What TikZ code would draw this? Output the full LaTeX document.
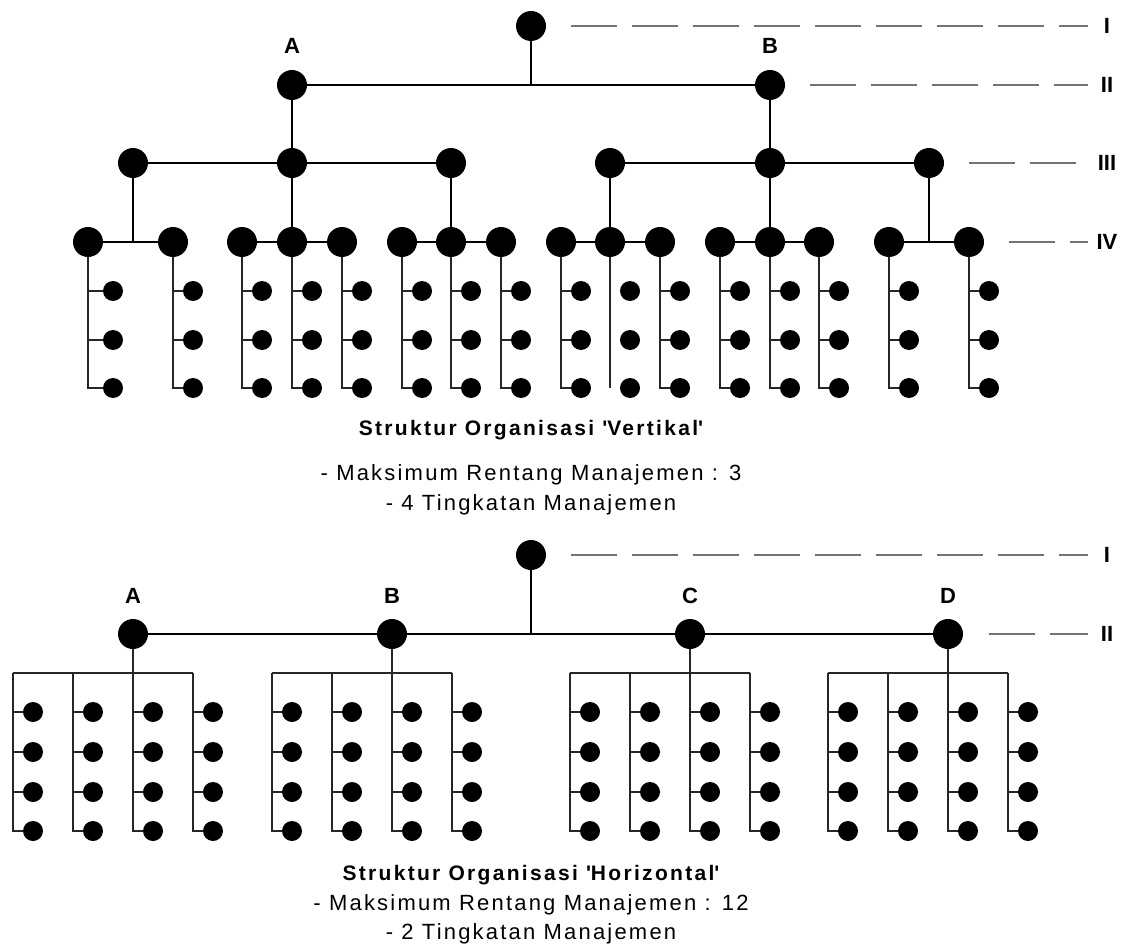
\documentclass[tikz,border=0pt]{standalone}
\usepackage{fontspec}
\setmainfont{Liberation Sans}
\newfontfamily\notefont[LetterSpace=10]{Liberation Sans}
\newfontfamily\headfont[LetterSpace=11]{Liberation Sans}

\tikzset{
  big/.style={circle, fill=black, minimum size=30pt, inner sep=0pt},
  dot/.style={circle, fill=black, minimum size=20pt, inner sep=0pt},
  link/.style={line width=1.8pt, black},
  twig/.style={line width=1.4pt, black!85},
  levelline/.style={line width=1.5pt, black!55, dash pattern=on 46pt off 15pt},
  lab/.style={font=\fontsize{22}{22}\selectfont\bfseries, inner sep=0pt, anchor=center},
  headline/.style={font=\headfont\fontsize{21}{21}\selectfont\bfseries, inner sep=0pt, anchor=base},
  noteline/.style={font=\notefont\fontsize{22}{22}\selectfont, inner sep=0pt, anchor=base},
}

\begin{document}
\begin{tikzpicture}[x=1pt, y=-1pt]
\useasboundingbox (0,0) rectangle (1122,947);

% ---------------- vertical structure ----------------
\node[big] (top) at (531,26) {};
\node[big] (A) at (292,85) {};
\node[big] (B) at (770,85) {};
\node[lab] (labA) at (292,46) {A};
\node[lab] (labB) at (770,46) {B};
\draw[link] (A) -- (B);
\draw[link] (top) -- (top |- A);

% level III
\foreach \n/\x in {a1/133, a2/292, a3/451, b1/610, b2/770, b3/929}
  \node[big] (\n) at (\x,163) {};
\draw[link] (a1) -- (a3);
\draw[link] (b1) -- (b3);
\draw[link] (A) -- (a2);
\draw[link] (B) -- (b2);

% level IV
\foreach \n/\x in {p1/88, p2/173, q1/242, q2/292, q3/342, r1/402, r2/451, r3/501,
                   s1/561, s2/610, s3/660, t1/720, t2/770, t3/819, u1/889, u2/969}
  \node[big] (\n) at (\x,242) {};
\draw[link] (p1) -- (p2);
\draw[link] (q1) -- (q3);
\draw[link] (r1) -- (r3);
\draw[link] (s1) -- (s3);
\draw[link] (t1) -- (t3);
\draw[link] (u1) -- (u2);
\draw[link] (a1) -- (a1 |- p1);
\draw[link] (a2) -- (q2);
\draw[link] (a3) -- (r2);
\draw[link] (b1) -- (s2);
\draw[link] (b2) -- (t2);
\draw[link] (b3) -- (b3 |- u1);

% staff under each level IV unit
\foreach \n/\x/\o in {p1/88/25, p2/173/20, q1/242/20, q2/292/20, q3/342/20,
                      r1/402/20, r2/451/20, r3/501/20, s1/561/20, s2/610/20,
                      s3/660/20, t1/720/20, t2/770/20, t3/819/20, u1/889/20, u2/969/20}
{
  \node[dot] (\n-1) at ({\x+\o},291) {};
  \node[dot] (\n-2) at ({\x+\o},340) {};
  \node[dot] (\n-3) at ({\x+\o},388) {};
}
\foreach \n in {p1, p2, q1, q2, q3, r1, r2, r3, s1, s3, t1, t2, t3, u1, u2}
{
  \draw[twig] (\n) |- (\n-3);
  \draw[twig] (\n |- \n-1) -- (\n-1);
  \draw[twig] (\n |- \n-2) -- (\n-2);
}
\draw[twig] (s2) -- (s2 |- s2-3);

% level guides
\coordinate (g1s) at (571,26);  \coordinate (g1e) at (1088,26);
\coordinate (g2s) at (810,85);  \coordinate (g2e) at (1088,85);
\coordinate (g3s) at (969,163); \coordinate (g3e) at (1088,163);
\coordinate (g4s) at (1009,242); \coordinate (g4e) at (1088,242);
\draw[levelline] (g1s) -- (g1e);
\draw[levelline] (g2s) -- (g2e);
\draw[levelline] (g3s) -- (g3e);
\draw[levelline] (g4s) -- (g4e);
\node[lab] (r1lab) at (1107,26) {I};
\node[lab] (r2lab) at (1107,85) {II};
\node[lab] (r3lab) at (1107,163) {III};
\node[lab] (r4lab) at (1107,242) {IV};

\node[headline] (vtitle) at (531,435) {Struktur Organisasi \textquotesingle Vertikal\textquotesingle};
\node[noteline] (vnote1) at (531,480) {- Maksimum Rentang Manajemen : 3};
\node[noteline] (vnote2) at (531,510) {- 4 Tingkatan Manajemen};

% ---------------- horizontal structure ----------------
\node[big] (htop) at (531,555) {};
\foreach \n/\x/\t in {hA/133/A, hB/392/B, hC/690/C, hD/948/D}
{
  \node[big] (\n) at (\x,634) {};
  \node[lab] (\n-lab) at (\x,596) {\t};
}
\draw[link] (hA) -- (hD);
\draw[link] (htop) -- (htop |- hA);

\foreach \n/\x in {hA/133, hB/392, hC/690, hD/948}
{
  \foreach \k/\dx in {1/-120, 2/-60, 3/0, 4/60}
  {
    \coordinate (\n-c\k) at ({\x+\dx},673);
    \foreach \r/\y in {1/712, 2/752, 3/792, 4/831}
      \node[dot] (\n-\k-\r) at ({\x+\dx+20},\y) {};
    \draw[twig] (\n-c\k) |- (\n-\k-4);
    \foreach \r in {1,2,3}
      \draw[twig] (\n-c\k |- \n-\k-\r) -- (\n-\k-\r);
  }
  \draw[twig] (\n) -- (\n-c3);
  \draw[twig] (\n-c1) -- (\n-c4);
}

\coordinate (h1s) at (571,555); \coordinate (h1e) at (1088,555);
\coordinate (h2s) at (989,634); \coordinate (h2e) at (1088,634);
\draw[levelline] (h1s) -- (h1e);
\draw[levelline] (h2s) -- (h2e);
\node[lab] (h1lab) at (1107,555) {I};
\node[lab] (h2lab) at (1107,634) {II};

\node[headline] (htitle) at (531,880) {Struktur Organisasi \textquotesingle Horizontal\textquotesingle};
\node[noteline] (hnote1) at (531,910) {- Maksimum Rentang Manajemen : 12};
\node[noteline] (hnote2) at (531,939) {- 2 Tingkatan Manajemen};
\end{tikzpicture}
\end{document}
